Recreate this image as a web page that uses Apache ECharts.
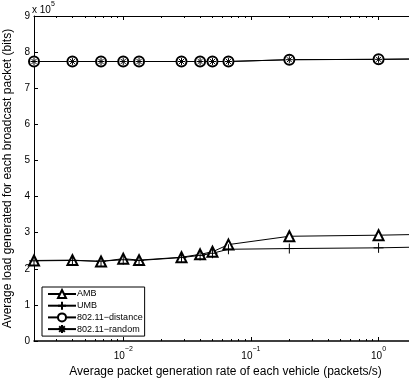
<!DOCTYPE html>
<html>
<head>
<meta charset="utf-8">
<script src="https://cdn.jsdelivr.net/npm/echarts@6/dist/echarts.min.js"></script>
<style>html,body{margin:0;padding:0;background:#fff;}#c{width:409px;height:381px;}</style>
</head>
<body>
<div id="c"></div>
<script>
// packets/s
var rates = [0.002, 0.004, 0.0067, 0.01, 0.0133, 0.0286, 0.04, 0.05, 0.0667, 0.2, 1, 2];
// bits
var amb   = [223000, 224000, 220000, 228000, 224000, 232000, 240000, 247000, 267000, 290000, 293000, 295000];
var umb   = [222000, 223000, 221000, 225000, 223000, 231000, 237000, 243000, 254000, 256000, 258000, 260000];
var dist  = [774000, 774000, 774000, 774000, 774000, 774000, 774000, 774000, 774000, 779000, 780000, 781000];
var rnd   = [774000, 774000, 774000, 774000, 774000, 774000, 774000, 774000, 774000, 779000, 780000, 781000];
var seriesNames = ['AMB', 'UMB', '802.11\u2212distance', '802.11\u2212random'];
var majorTicks = [0.01, 0.1, 1];
var minorTicks = [0.003,0.004,0.005,0.006,0.007,0.008,0.009,0.02,0.03,0.04,0.05,0.06,0.07,0.08,0.09,0.2,0.3,0.4,0.5,0.6,0.7,0.8,0.9];

function pairs(ys){ return rates.map(function(r,i){ return [r, ys[i]]; }); }

var font = 'Liberation Sans, Arial, sans-serif';
var plusPath = 'path://M5,0L5,10M0,5L10,5';
var starPath = 'path://M5,0L5,10M0,5L10,5M1.5,1.5L8.5,8.5M1.5,8.5L8.5,1.5';

function xAxisBase(pos, showLine, ticks, len, showLabel){
  return {
    type: 'log', logBase: 10, min: 0.002, max: 2, position: pos,
    axisLine: {show: showLine, onZero: false, lineStyle: {color: '#000', width: pos === 'bottom' ? 1.5 : 1}},
    axisTick: {show: true, inside: true, length: len, customValues: ticks, lineStyle: {color: '#000', width: 1}},
    axisLabel: showLabel ? {
      show: true, customValues: majorTicks, margin: 5,
      formatter: function(v){ var e = Math.round(Math.log10(v)); return '{b|10}{s|' + (e < 0 ? '\u2212' + (-e) : e) + '}'; },
      rich: {
        b: {fontFamily: font, fontSize: 10, color: '#000', lineHeight: 15, verticalAlign: 'bottom'},
        s: {fontFamily: font, fontSize: 7, color: '#000', lineHeight: 15, verticalAlign: 'top'}
      }
    } : {show: false},
    splitLine: {show: false}, minorTick: {show: false}
  };
}

var chart = echarts.init(document.getElementById('c'), null, {renderer: 'canvas'});
var lineStyle = {color: '#000', width: 1};
chart.setOption({
  animation: false,
  backgroundColor: '#fff',
  grid: {left: 34, top: 16, width: 383, height: 325, containLabel: false, outerBoundsMode: 'none'},
  xAxis: [
    Object.assign(xAxisBase('bottom', true, majorTicks, 4, true), {
      name: 'Average packet generation rate of each vehicle (packets/s)',
      nameLocation: 'middle', nameGap: 18,
      nameTextStyle: {fontFamily: font, fontSize: 12, color: '#000'}
    }),
    xAxisBase('bottom', false, minorTicks, 2, false),
    xAxisBase('top', true, majorTicks, 4, false),
    xAxisBase('top', false, minorTicks, 2, false)
  ],
  yAxis: [{
    type: 'value', min: 0, max: 900000, interval: 100000,
    axisLine: {show: true, onZero: false, lineStyle: {color: '#000', width: 1}},
    axisTick: {show: true, inside: true, length: 4, lineStyle: {color: '#000'}},
    axisLabel: {fontFamily: font, fontSize: 10, color: '#000', margin: 4,
      formatter: function(v){ return String(Math.round(v / 100000)); }},
    splitLine: {show: false},
    name: 'Average load generated for each broadcast packet (bits)',
    nameLocation: 'middle', nameGap: 15,
    nameTextStyle: {fontFamily: font, fontSize: 12, color: '#000'}
  }],
  legend: {
    orient: 'vertical', left: 42, top: 287,
    backgroundColor: '#fff', borderColor: '#000', borderWidth: 1,
    padding: [2, 2, 2, 5], itemGap: 1.7, itemWidth: 28, itemHeight: 10,
    textStyle: {fontFamily: font, fontSize: 9, color: '#000', padding: [0,0,0,-4]},
    data: seriesNames
  },
  graphic: [{
    type: 'text', left: 32, top: 1,
    style: {
      text: '{b|x 10}{s|5}', fontFamily: font,
      rich: {
        b: {fontFamily: font, fontSize: 10, fill: '#000', lineHeight: 14, verticalAlign: 'bottom'},
        s: {fontFamily: font, fontSize: 7, fill: '#000', lineHeight: 14, verticalAlign: 'top'}
      }
    }
  }],
  series: [
    {name: seriesNames[0], type: 'line', data: pairs(amb), symbol: 'emptyTriangle', symbolSize: 10,
      lineStyle: lineStyle, itemStyle: {color: '#000', borderWidth: 1}},
    {name: seriesNames[1], type: 'line', data: pairs(umb), symbol: plusPath, symbolSize: 10,
      lineStyle: lineStyle, itemStyle: {color: '#000', borderColor: '#000', borderWidth: 1}},
    {name: seriesNames[2], type: 'line', data: pairs(dist), symbol: 'emptyCircle', symbolSize: 10,
      lineStyle: lineStyle, itemStyle: {color: '#000', borderWidth: 1}},
    {name: seriesNames[3], type: 'line', data: pairs(rnd), symbol: starPath, symbolSize: 7,
      lineStyle: lineStyle, itemStyle: {color: '#000', borderColor: '#000', borderWidth: 1}}
  ]
});
</script>
</body>
</html>
